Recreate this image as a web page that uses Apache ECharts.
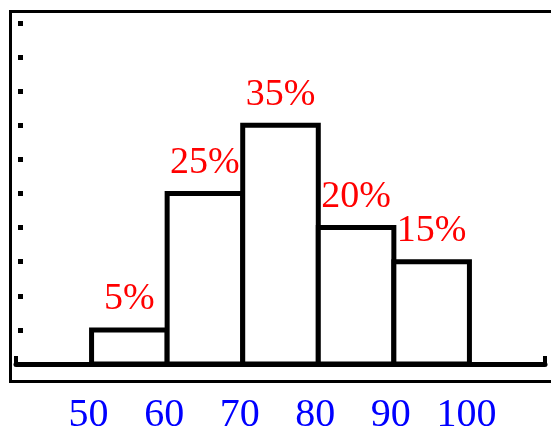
<!DOCTYPE html>
<html>
<head>
<meta charset="utf-8">
<script src="https://cdn.jsdelivr.net/npm/echarts@6/dist/echarts.min.js"></script>
<style>
html,body{margin:0;padding:0;background:#fff;}
#chart{width:551px;height:433px;}
</style>
</head>
<body>
<div id="chart"></div>
<script>
// Score bins (lower and upper edge) and percentage in each bin
var binStarts = [50, 60, 70, 80, 90];
var binEnds   = [60, 70, 80, 90, 100];
var percents  = [5, 25, 35, 20, 15];
// Axis tick labels
var xTickLabels = [50, 60, 70, 80, 90, 100];
var yTickValues = [5, 10, 15, 20, 25, 30, 35, 40, 45, 50];
var xRange = [40, 110];
var yRange = [0, 51];

var seriesData = binStarts.map(function (s, i) {
  return [s, binEnds[i], percents[i]];
});

var chart = echarts.init(document.getElementById('chart'));
chart.setOption({
  backgroundColor: '#ffffff',
  animation: false,
  graphic: [{
    type: 'rect',
    left: 8, top: 9,
    shape: { x: 0, y: 0, width: 560, height: 370 },
    style: { fill: 'none', stroke: '#000', lineWidth: 3 },
    z: 0
  }],
  grid: { left: 16, right: 6, top: 16, bottom: 69, containLabel: false, outerBoundsMode: 'none' },
  xAxis: {
    type: 'value',
    min: xRange[0], max: xRange[1],
    splitLine: { show: false },
    axisLine: { show: true, onZero: false, lineStyle: { color: '#000', width: 5 } },
    axisTick: { show: true, inside: true, length: 8, customValues: xRange.slice(),
      lineStyle: { color: '#000', width: 4 } },
    axisLabel: {
      customValues: xTickLabels,
      color: '#0000ff',
      fontFamily: '"Liberation Serif", "DejaVu Serif", serif',
      fontSize: 40,
      margin: 31,
      padding: [0, 6, 0, 0]
    }
  },
  yAxis: {
    type: 'value',
    min: yRange[0], max: yRange[1],
    offset: -2,
    splitLine: { show: false },
    axisLine: { show: false },
    axisTick: { show: true, inside: true, length: 5, customValues: yTickValues,
      lineStyle: { color: '#000', width: 5 } },
    axisLabel: { show: false }
  },
  series: [{
    type: 'custom',
    data: seriesData,
    encode: { x: [0, 1], y: 2 },
    renderItem: function (params, api) {
      var p0 = api.coord([api.value(0), api.value(2)]);
      var p1 = api.coord([api.value(1), 0]);
      return {
        type: 'rect',
        shape: { x: p0[0], y: p0[1], width: p1[0] - p0[0], height: p1[1] - p0[1] },
        style: { fill: '#fff', stroke: '#000', lineWidth: 5 },
        textContent: {
          style: {
            text: api.value(2) + '%',
            fill: '#ff0000',
            fontFamily: '"Liberation Serif", "DejaVu Serif", serif',
            fontSize: 38
          }
        },
        textConfig: { position: 'top', distance: 9 }
      };
    },
    z: 2
  }]
});
</script>
</body>
</html>
